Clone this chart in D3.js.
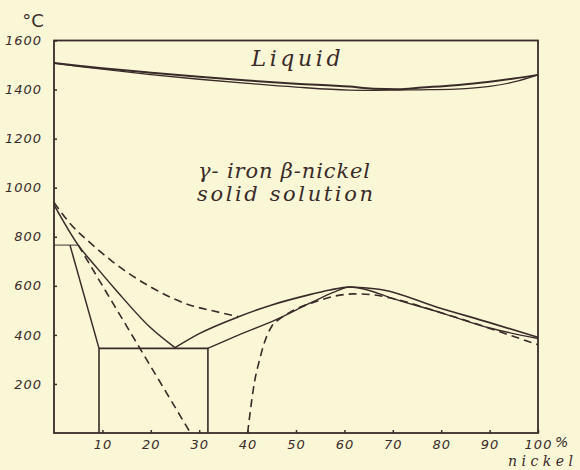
<!DOCTYPE html>
<html>
<head>
<meta charset="utf-8">
<script src="https://cdn.jsdelivr.net/npm/d3@7"></script>
<style>
  html, body { margin: 0; padding: 0; background: #faf7d7; }
  svg { display: block; }
</style>
</head>
<body>
<svg id="chart" width="580" height="470"></svg>
<script>
// Iron–nickel equilibrium diagram: temperature (°C) against nickel content (%)

const nickelTicks = [10, 20, 30, 40, 50, 60, 70, 80, 90, 100];
const tempTicks = [200, 400, 600, 800, 1000, 1200, 1400, 1600];

// Melting range (upper pair of curves)
const liquidus = [[0,1508],[5,1497],[10,1487],[20,1469],[30,1452],[40,1437],[50,1424],[61,1412],[66,1403],[71,1401],[76,1408],[83,1418],[90,1432],[95,1445],[100,1460]];
const solidus  = [[0,1508],[5,1495],[10,1483],[20,1461],[30,1442],[40,1425],[50,1410],[61,1398],[66,1397],[71,1398],[76,1399],[83,1402],[90,1413],[95,1431],[100,1460]];

// Low-temperature transformation lines
const shelf        = [[0,766],[5,766]];
const leftBoundary = [[3.3,766],[9.3,345]];
const box          = [[9.3,0],[9.3,345],[31.8,345],[31.8,0]];
const curveB       = [[0,930],[5,766],[9,670],[13,578],[19.8,432],[25,348]];
const curveE       = [[25,348],[30,405],[38,473],[45,522],[52,560],[57,583],[61,595],[64,592],[68,583],[79,514],[90,450],[100,390]];
const curveF       = [[31.8,345],[37,390],[46,463],[53,530],[58,575],[61,595],[65,582],[69.4,552],[80,490],[90,428],[100,385]];

// Dashed (magnetic) lines
const dashA = [[0,940],[3.5,850],[7.5,775],[12,700],[20,595],[28,522],[33,497],[38,475]];
const dashD = [[5,766],[28.2,0]];
const dashG = [[40,0],[41.5,216],[42.5,300],[43.5,370],[45,435],[47,470],[50,505],[54,535],[58,558],[62,567],[66,563],[70,548],[80,490],[88,440],[94,400],[100,360]];

const ink = "#3a2b29";
const svg = d3.select("#chart");

const x = d3.scaleLinear().domain([0, 100]).range([54, 538]);
const y = d3.scaleLinear().domain([0, 1600]).range([433, 40.5]);

const smooth = d3.line().x(d => x(d[0])).y(d => y(d[1])).curve(d3.curveMonotoneX);
const straight = d3.line().x(d => x(d[0])).y(d => y(d[1]));

// Plot frame
svg.append("rect")
  .attr("x", x(0)).attr("y", y(1600))
  .attr("width", x(100) - x(0)).attr("height", y(0) - y(1600))
  .attr("fill", "none").attr("stroke", ink).attr("stroke-width", 1.8);

const styleTickText = sel => sel
  .attr("fill", ink)
  .attr("font-family", "'DejaVu Sans', sans-serif")
  .attr("font-style", "italic")
  .attr("font-size", 13)
  .attr("letter-spacing", 1);

// Axes with short inward ticks
const xAxis = d3.axisBottom(x)
  .tickValues(nickelTicks)
  .tickFormat(d3.format("d"))
  .tickSizeInner(-3).tickSizeOuter(0).tickPadding(7);
const gx = svg.append("g").attr("transform", `translate(0,${y(0)})`).call(xAxis);
gx.select(".domain").remove();
gx.selectAll(".tick line").attr("stroke", ink).attr("stroke-width", 1.5);
gx.selectAll(".tick text").call(styleTickText);

const yAxis = d3.axisLeft(y)
  .tickValues(tempTicks)
  .tickFormat(d3.format("d"))
  .tickSizeInner(-3).tickSizeOuter(0).tickPadding(12);
const gy = svg.append("g").attr("transform", `translate(${x(0)},0)`).call(yAxis);
gy.select(".domain").remove();
gy.selectAll(".tick line").attr("stroke", ink).attr("stroke-width", 1.5);
gy.selectAll(".tick text").call(styleTickText);

// Unit labels
svg.append("text").attr("x", 33).attr("y", 27)
  .attr("text-anchor", "middle")
  .attr("font-family", "'DejaVu Sans', sans-serif")
  .attr("font-size", 18).attr("fill", ink).text("°C");

svg.append("text").attr("x", 555).attr("y", 447)
  .attr("font-family", "'DejaVu Sans', sans-serif")
  .attr("font-style", "italic")
  .attr("font-size", 14).attr("fill", ink).text("%");

svg.append("text").attr("x", 508).attr("y", 466)
  .attr("font-family", "'DejaVu Serif', serif")
  .attr("font-style", "italic")
  .attr("font-size", 14).attr("fill", ink)
  .attr("textLength", 65).attr("lengthAdjust", "spacing")
  .text("nickel");

// Curves
const solid = (data, gen, w) => svg.append("path").datum(data)
  .attr("d", gen).attr("fill", "none").attr("stroke", ink)
  .attr("stroke-width", w).attr("stroke-linejoin", "round");
const dashed = (data, gen) => solid(data, gen, 1.6).attr("stroke-dasharray", "8,5");

solid(liquidus, smooth, 2);
solid(solidus, smooth, 1.3);

solid(shelf, straight, 1.2).attr("stroke-opacity", 0.8);
solid(leftBoundary, straight, 1.5);
solid(box, straight, 1.6);
solid(curveB, smooth, 1.5);
solid(curveE, smooth, 1.6);
solid(curveF, smooth, 1.4);

dashed(dashA, smooth);
dashed(dashD, straight);
dashed(dashG, smooth);

// Field labels
const serifLabel = (txt, cx, by, len, size) => svg.append("text")
  .attr("x", cx - len / 2).attr("y", by)
  .attr("font-family", "'DejaVu Serif', serif")
  .attr("font-style", "italic")
  .attr("font-size", size).attr("fill", ink)
  .attr("textLength", len).attr("lengthAdjust", "spacing")
  .text(txt);

serifLabel("Liquid", 296, 66, 89, 22);
serifLabel("γ- iron  β-nickel", 284, 178, 172, 21);
serifLabel("solid solution", 285, 201, 176, 21);
</script>
</body>
</html>
